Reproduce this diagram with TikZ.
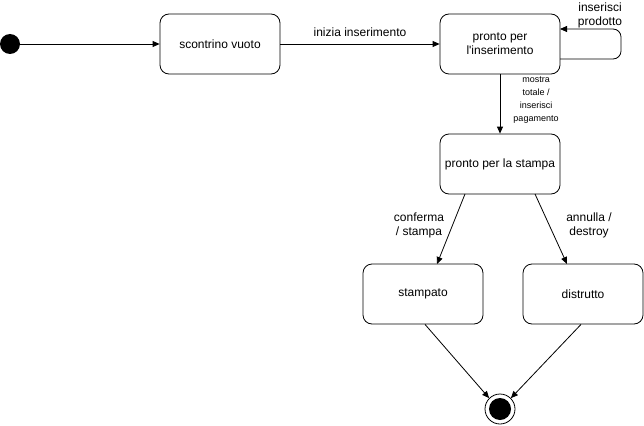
\documentclass[tikz,border=0pt]{standalone}
\usepackage{fontspec}
\setmainfont{Liberation Sans}
\usetikzlibrary{arrows.meta}
\begin{document}
\begin{tikzpicture}[x=1pt,y=-1pt,
  state/.style={draw,line width=0.8pt,rounded corners=9pt,minimum width=120pt,minimum height=60pt,align=center,font=\fontsize{12}{14}\selectfont,inner sep=0pt},
  lbl/.style={align=center,font=\fontsize{12}{14}\selectfont,inner sep=0pt},
  slbl/.style={align=center,font=\fontsize{9}{13.3}\selectfont,inner sep=0pt},
  arr/.style={-{Triangle[length=7pt,width=6pt]},line width=0.8pt}]
\useasboundingbox (0,0) rectangle (644,425);
\fill (10,44) circle (10);
\node[circle,minimum size=20pt,inner sep=0pt] (ini) at (10,44) {};
\node[state] (sv) at (220,44) {scontrino vuoto};
\node[state] (pi) at (500,44) {pronto per\\l\textquotesingle inserimento};
\node[state] (ps) at (500,164) {pronto per la stampa};
\node[state] (st) at (423,294) {stampato};
\node[state] (di) at (583,294) {distrutto};
\node[circle,draw,line width=0.8pt,minimum size=30pt,inner sep=0pt] (fin) at (500,409) {};
\fill (500,409) circle (11);
\draw[arr] (ini) -- (sv);
\draw[arr] (sv) -- node[lbl,above=7pt] {inizia inserimento} (pi);
\coordinate (l1) at (560,59);
\coordinate (l2) at (560,29);
\draw[arr,rounded corners=8pt] (l1) -- (621,59) -- (621,29) -- (l2);
\node[lbl] (lip) at (600,15) {inserisci\\prodotto};
\draw[arr] (pi) -- (ps);
\node[slbl] (lmt) at (536,100) {mostra\\totale /\\inserisci\\pagamento};
\coordinate (a1) at (465,194);
\coordinate (a2) at (437,264);
\coordinate (b1) at (535,194);
\coordinate (b2) at (567,264);
\draw[arr] (a1) -- (a2);
\node[lbl] (lcs) at (419,225) {conferma\\/ stampa};
\draw[arr] (b1) -- (b2);
\node[lbl] (lad) at (589,225) {annulla /\\destroy};
\draw[arr] ([xshift=2pt]st.south) -- (fin.135);
\draw[arr] ([xshift=-2pt]di.south) -- (fin.45);
\end{tikzpicture}
\end{document}
